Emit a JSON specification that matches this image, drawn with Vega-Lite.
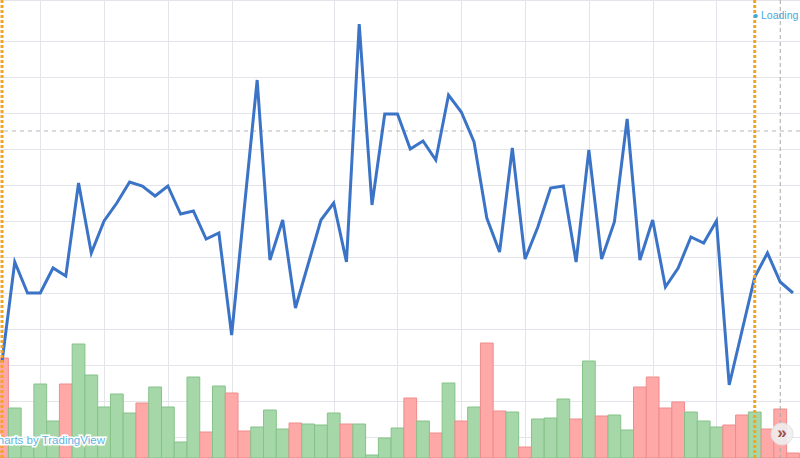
{
  "$schema": "https://vega.github.io/schema/vega-lite/v6.json",
  "width": 800,
  "height": 458,
  "autosize": {"type": "none"},
  "padding": 0,
  "background": "white",
  "config": {"view": {"stroke": null}, "scale": {"continuousPadding": 0}},
  "datasets": {
    "candles": [
      {"i": 1, "price": 9.6, "vol": 100, "dir": "down"},
      {"i": 2, "price": 19.6, "vol": 50, "dir": "up"},
      {"i": 3, "price": 16.5, "vol": 12, "dir": "up"},
      {"i": 4, "price": 16.5, "vol": 74, "dir": "up"},
      {"i": 5, "price": 19.0, "vol": 37, "dir": "up"},
      {"i": 6, "price": 18.2, "vol": 74, "dir": "down"},
      {"i": 7, "price": 27.5, "vol": 114, "dir": "up"},
      {"i": 8, "price": 20.5, "vol": 83, "dir": "up"},
      {"i": 9, "price": 23.7, "vol": 51, "dir": "up"},
      {"i": 10, "price": 25.5, "vol": 64, "dir": "up"},
      {"i": 11, "price": 27.6, "vol": 45, "dir": "up"},
      {"i": 12, "price": 27.2, "vol": 55, "dir": "down"},
      {"i": 13, "price": 26.2, "vol": 71, "dir": "up"},
      {"i": 14, "price": 27.2, "vol": 51, "dir": "up"},
      {"i": 15, "price": 24.4, "vol": 16, "dir": "up"},
      {"i": 16, "price": 24.7, "vol": 81, "dir": "up"},
      {"i": 17, "price": 21.9, "vol": 26, "dir": "down"},
      {"i": 18, "price": 22.5, "vol": 72, "dir": "up"},
      {"i": 19, "price": 12.3, "vol": 65, "dir": "down"},
      {"i": 20, "price": 25.1, "vol": 27, "dir": "down"},
      {"i": 21, "price": 37.8, "vol": 31, "dir": "up"},
      {"i": 22, "price": 19.8, "vol": 48, "dir": "up"},
      {"i": 23, "price": 23.8, "vol": 29, "dir": "up"},
      {"i": 24, "price": 15.0, "vol": 35, "dir": "down"},
      {"i": 25, "price": 19.4, "vol": 34, "dir": "up"},
      {"i": 26, "price": 23.8, "vol": 33, "dir": "up"},
      {"i": 27, "price": 25.5, "vol": 45, "dir": "up"},
      {"i": 28, "price": 19.6, "vol": 34, "dir": "down"},
      {"i": 29, "price": 43.4, "vol": 34, "dir": "up"},
      {"i": 30, "price": 25.3, "vol": 3, "dir": "up"},
      {"i": 31, "price": 34.4, "vol": 20, "dir": "up"},
      {"i": 32, "price": 34.4, "vol": 30, "dir": "up"},
      {"i": 33, "price": 30.9, "vol": 60, "dir": "down"},
      {"i": 34, "price": 31.7, "vol": 37, "dir": "up"},
      {"i": 35, "price": 29.8, "vol": 25, "dir": "down"},
      {"i": 36, "price": 36.3, "vol": 75, "dir": "up"},
      {"i": 37, "price": 34.6, "vol": 37, "dir": "down"},
      {"i": 38, "price": 31.6, "vol": 51, "dir": "up"},
      {"i": 39, "price": 24.0, "vol": 115, "dir": "down"},
      {"i": 40, "price": 20.6, "vol": 47, "dir": "down"},
      {"i": 41, "price": 31.0, "vol": 46, "dir": "up"},
      {"i": 42, "price": 19.9, "vol": 11, "dir": "down"},
      {"i": 43, "price": 23.1, "vol": 39, "dir": "up"},
      {"i": 44, "price": 27.0, "vol": 40, "dir": "up"},
      {"i": 45, "price": 27.2, "vol": 59, "dir": "up"},
      {"i": 46, "price": 19.6, "vol": 39, "dir": "down"},
      {"i": 47, "price": 30.8, "vol": 97, "dir": "up"},
      {"i": 48, "price": 19.9, "vol": 42, "dir": "down"},
      {"i": 49, "price": 23.6, "vol": 43, "dir": "up"},
      {"i": 50, "price": 33.9, "vol": 28, "dir": "up"},
      {"i": 51, "price": 19.8, "vol": 71, "dir": "down"},
      {"i": 52, "price": 23.8, "vol": 81, "dir": "down"},
      {"i": 53, "price": 17.1, "vol": 50, "dir": "down"},
      {"i": 54, "price": 19.0, "vol": 56, "dir": "down"},
      {"i": 55, "price": 22.1, "vol": 46, "dir": "up"},
      {"i": 56, "price": 21.5, "vol": 37, "dir": "up"},
      {"i": 57, "price": 23.7, "vol": 31, "dir": "up"},
      {"i": 58, "price": 7.3, "vol": 33, "dir": "down"},
      {"i": 59, "price": 12.7, "vol": 43, "dir": "down"},
      {"i": 60, "price": 18.1, "vol": 46, "dir": "up"},
      {"i": 61, "price": 20.5, "vol": 29, "dir": "down"},
      {"i": 62, "price": 17.6, "vol": 49, "dir": "down"},
      {"i": 63, "price": 16.5, "vol": 5, "dir": "down"}
    ]
  },
  "layer": [
    {
      "data": {"name": "candles"},
      "mark": {"type": "bar", "width": 12.76, "strokeWidth": 1, "clip": true},
      "encoding": {
        "x": {
          "field": "i", "type": "quantitative",
          "scale": {"domain": [0.843, 63.549], "nice": false, "zero": false, "padding": 0},
          "axis": {"values": [4, 9, 14, 19, 27, 32, 37, 42, 47, 52, 57], "tickCount": 40, "grid": true, "gridColor": "#e4e5ea", "labels": false, "ticks": false, "domain": true, "domainColor": "#a3a6af", "title": null}
        },
        "y": {"field": "vol", "type": "quantitative", "scale": {"domain": [0, 458], "nice": false, "padding": 0}, "axis": null},
        "color": {"field": "dir", "type": "nominal", "scale": {"domain": ["up", "down"], "range": ["#a6d7a8", "#ffa8a8"]}, "legend": null},
        "stroke": {"field": "dir", "type": "nominal", "scale": {"domain": ["up", "down"], "range": ["#86c289", "#ee8c8c"]}, "legend": null}
      }
    },
    {
      "layer": [
        {
          "data": {"values": [{"price": 32.7}]},
          "mark": {"type": "rule", "strokeDash": [4, 4], "color": "#b8b8b8", "strokeWidth": 1},
          "encoding": {
            "y": {
              "field": "price", "type": "quantitative",
              "scale": {"domain": [0, 45.8], "nice": false, "zero": false},
              "axis": {"values": [45.75, 41.7, 38.1, 34.5, 30.9, 27.3, 23.7, 20.1, 16.5, 12.9, 9.3, 5.7, 2.1], "tickCount": 40, "grid": true, "gridColor": "#e4e5ea", "labels": false, "ticks": false, "domain": false, "title": null}
            }
          }
        },
        {
          "data": {"values": [{"i": 62}]},
          "mark": {"type": "rule", "strokeDash": [4, 3], "color": "#a8a8a8", "strokeWidth": 1},
          "encoding": {
            "x": {
              "field": "i", "type": "quantitative",
              "scale": {"domain": [0.843, 63.549], "nice": false, "zero": false, "padding": 0},
              "axis": {"values": [4, 9, 14, 19, 27, 32, 37, 42, 47, 52, 57], "tickCount": 40, "grid": true, "gridColor": "#e4e5ea", "labels": false, "ticks": false, "domain": true, "domainColor": "#a3a6af", "title": null}
            }
          }
        },
        {
          "data": {"name": "candles"},
          "mark": {"type": "line", "color": "#3b74c7", "strokeWidth": 3},
          "encoding": {
            "x": {
              "field": "i", "type": "quantitative",
              "scale": {"domain": [0.843, 63.549], "nice": false, "zero": false, "padding": 0},
              "axis": {"values": [4, 9, 14, 19, 27, 32, 37, 42, 47, 52, 57], "tickCount": 40, "grid": true, "gridColor": "#e4e5ea", "labels": false, "ticks": false, "domain": true, "domainColor": "#a3a6af", "title": null}
            },
            "y": {"field": "price", "type": "quantitative", "scale": {"domain": [0, 45.8], "nice": false, "zero": false}}
          }
        },
        {
          "data": {"values": [{"i": 1}, {"i": 60}]},
          "mark": {"type": "rule", "strokeDash": [3, 2], "color": "#f4a425", "strokeWidth": 3},
          "encoding": {
            "x": {
              "field": "i", "type": "quantitative",
              "scale": {"domain": [0.843, 63.549], "nice": false, "zero": false, "padding": 0},
              "axis": {"values": [4, 9, 14, 19, 27, 32, 37, 42, 47, 52, 57], "tickCount": 40, "grid": true, "gridColor": "#e4e5ea", "labels": false, "ticks": false, "domain": true, "domainColor": "#a3a6af", "title": null}
            }
          }
        },
        {
          "data": {"values": [{"i": 60.08, "price": 44.2}]},
          "mark": {"type": "point", "filled": true, "size": 18, "color": "#3fa6da", "opacity": 1},
          "encoding": {
            "x": {"field": "i", "type": "quantitative", "scale": {"domain": [0.843, 63.549], "nice": false, "zero": false, "padding": 0}},
            "y": {"field": "price", "type": "quantitative", "scale": {"domain": [0, 45.8], "nice": false, "zero": false}}
          }
        },
        {
          "data": {"values": [{"i": 60.49, "price": 44.2, "label": "Loading"}]},
          "mark": {"type": "text", "align": "left", "baseline": "middle", "font": "Liberation Sans", "fontSize": 10.5, "color": "#4aa8da"},
          "encoding": {
            "x": {"field": "i", "type": "quantitative", "scale": {"domain": [0.843, 63.549], "nice": false, "zero": false, "padding": 0}},
            "y": {"field": "price", "type": "quantitative", "scale": {"domain": [0, 45.8], "nice": false, "zero": false}},
            "text": {"field": "label"}
          }
        },
        {
          "data": {"values": [{"i": 9.07, "price": 1.4, "label": "Charts by TradingView"}]},
          "mark": {"type": "text", "align": "right", "baseline": "alphabetic", "font": "Liberation Sans", "fontSize": 11.5, "stroke": "white", "strokeWidth": 3, "color": "white"},
          "encoding": {
            "x": {"field": "i", "type": "quantitative", "scale": {"domain": [0.843, 63.549], "nice": false, "zero": false, "padding": 0}},
            "y": {"field": "price", "type": "quantitative", "scale": {"domain": [0, 45.8], "nice": false, "zero": false}},
            "text": {"field": "label"}
          }
        },
        {
          "data": {"values": [{"i": 9.07, "price": 1.4, "label": "Charts by TradingView"}]},
          "mark": {"type": "text", "align": "right", "baseline": "alphabetic", "font": "Liberation Sans", "fontSize": 11.5, "color": "#5fb4e4"},
          "encoding": {
            "x": {"field": "i", "type": "quantitative", "scale": {"domain": [0.843, 63.549], "nice": false, "zero": false, "padding": 0}},
            "y": {"field": "price", "type": "quantitative", "scale": {"domain": [0, 45.8], "nice": false, "zero": false}},
            "text": {"field": "label"}
          }
        },
        {
          "data": {"values": [{"i": 62.14, "price": 2.4}]},
          "mark": {"type": "point", "filled": true, "size": 484, "color": "#efefef", "opacity": 0.9, "stroke": "#e2e2e2", "strokeWidth": 1},
          "encoding": {
            "x": {"field": "i", "type": "quantitative", "scale": {"domain": [0.843, 63.549], "nice": false, "zero": false, "padding": 0}},
            "y": {"field": "price", "type": "quantitative", "scale": {"domain": [0, 45.8], "nice": false, "zero": false}}
          }
        },
        {
          "data": {"values": [{"i": 62.14, "price": 2.4, "label": "»"}]},
          "mark": {"type": "text", "align": "center", "baseline": "middle", "font": "Liberation Sans", "fontSize": 17, "fontWeight": "bold", "color": "#9c4c4c", "dy": -1},
          "encoding": {
            "x": {"field": "i", "type": "quantitative", "scale": {"domain": [0.843, 63.549], "nice": false, "zero": false, "padding": 0}},
            "y": {"field": "price", "type": "quantitative", "scale": {"domain": [0, 45.8], "nice": false, "zero": false}},
            "text": {"field": "label"}
          }
        }
      ]
    }
  ],
  "resolve": {"scale": {"y": "independent"}}
}
